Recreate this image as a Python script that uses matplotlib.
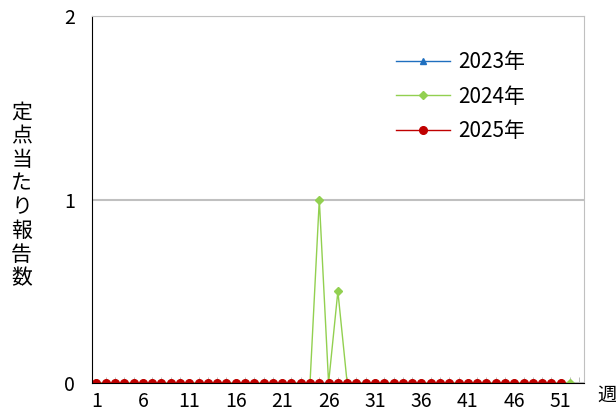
import matplotlib.pyplot as plt

plt.rcParams['font.family'] = ['Noto Sans CJK JP', 'DejaVu Sans']

# weekly reports per sentinel site
weeks_2023 = list(range(1, 53))
vals_2023 = [0] * 52

weeks_2024 = list(range(1, 53))
vals_2024 = [0] * 52
vals_2024[24] = 1.0   # week 25
vals_2024[26] = 0.5   # week 27

weeks_2025 = list(range(1, 52))
vals_2025 = [0] * 51

xticks = list(range(1, 52, 5))

fig = plt.figure(figsize=(6.16, 4.2), dpi=100)
ax = fig.add_axes([0.149, 0.088, 0.799, 0.874])

ax.plot(weeks_2023, vals_2023, color='#1f6fbf', marker='^', markersize=5, lw=1, label='2023年')
ax.plot(weeks_2024, vals_2024, color='#92d050', marker='D', markersize=4, lw=1, label='2024年')
ax.plot(weeks_2025, vals_2025, color='#c00000', marker='o', markersize=5.5, lw=1, label='2025年')

ax.set_xlim(0.5, 53.5)
ax.set_ylim(0, 2)
ax.set_yticks([0, 1, 2])
ax.set_xticks(xticks)
ax.set_xticks(range(1, 54), minor=True)
ax.tick_params(axis='both', which='major', length=0, labelsize=14, pad=12)
ax.tick_params(axis='x', which='minor', direction='in', length=4, color='#b0b0b0')
ax.tick_params(axis='x', which='major', pad=6)

ax.grid(axis='y', color='#c0c0c0', lw=1.5)
ax.set_axisbelow(True)
for s in ['top', 'right']:
    ax.spines[s].set_color('#c0c0c0')
for s in ['left', 'bottom']:
    ax.spines[s].set_color('black')

fig.text(0.035, 0.535, '\n'.join('定点当たり報告数'), ha='center', va='center',
         fontsize=15, linespacing=1.1)
fig.text(0.985, 0.06, '週', ha='center', va='center', fontsize=14)

ax.legend(loc='upper left', bbox_to_anchor=(0.58, 0.955), frameon=False,
          fontsize=15, handlelength=2.6, labelspacing=0.6, handletextpad=0.4)

fig.savefig('out.png', dpi=100)
